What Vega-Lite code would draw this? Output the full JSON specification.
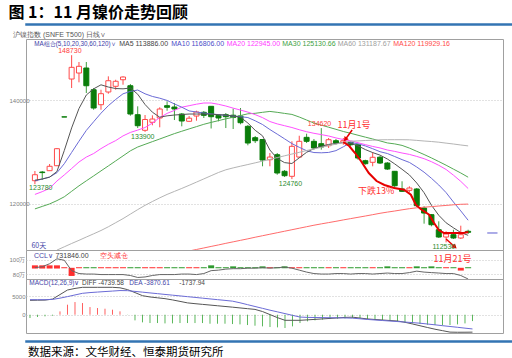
{
"$schema":"https://vega.github.io/schema/vega-lite/v6.json",
"padding":{"left":8,"right":10,"top":5,"bottom":0},
"background":"white",
"spacing":0,
"title":{"text":"图 1：11 月镍价走势回顾","anchor":"start","fontSize":16,"fontWeight":"bold","color":"#000000","offset":2,"font":"Noto Sans CJK SC"},
"config":{
 "font":"Liberation Sans",
 "view":{"stroke":"#a0a0a0"},
 "axis":{"title":null},
 "axisX":{"disable":true},
 "axisY":{"grid":true,"gridColor":"#c4c4c4","gridDash":[1,2],"domain":false,"ticks":false,"labelFontSize":6,"labelFont":"Liberation Sans","labelColor":"#808080","labelPadding":1}
},
"datasets":{
"band":[{"a":0,"b":1}],
"kl":[
{"i":0,"o":124450,"h":126330,"l":123780,"c":125610,"ma5":124550,"ma10":124410,"ma20":121800,"ma30":119000,"ccl":88.8,"b0":87.6,"b1":92.0,"bc":"up","diff":3910,"dea":4080,"macd":-900},
{"i":1,"o":126130,"h":126330,"l":124590,"c":126020,"ma5":124780,"ma10":124780,"ma20":122340,"ma30":119480,"ccl":90.1,"b0":87.6,"b1":92.0,"bc":"up","diff":3940,"dea":4080,"macd":-630},
{"i":2,"o":126390,"h":127680,"l":126330,"c":127240,"ma5":125130,"ma10":125170,"ma20":122980,"ma30":119960,"ccl":94.2,"b0":87.6,"b1":92.0,"bc":"up","diff":3970,"dea":4080,"macd":-450},
{"i":3,"o":127350,"h":130780,"l":127290,"c":130640,"ma5":126230,"ma10":126000,"ma20":124390,"ma30":120600,"ma60":111030,"ccl":101,"b0":87.6,"b1":92.0,"bc":"up","diff":4240,"dea":4150,"macd":-270},
{"i":4,"o":136800,"h":136800,"l":136770,"c":136770,"ma5":130290,"ma10":127740,"ma20":125570,"ma30":121340,"ma60":111670,"ccl":99,"b0":88.0,"b1":89.4,"bc":"up","diff":5470,"dea":4500,"macd":900},
{"i":5,"o":144120,"h":148730,"l":142380,"c":146380,"ma5":134660,"ma10":129920,"ma20":126810,"ma30":122400,"ma60":112310,"ccl":84.7,"b0":77.4,"b1":88.6,"bc":"up","diff":6710,"dea":4920,"macd":2720},
{"i":6,"o":145280,"h":147410,"l":143480,"c":146580,"ma5":138410,"ma10":132090,"ma20":128070,"ma30":123460,"ma60":112920,"ccl":80.7,"b0":88.0,"b1":89.4,"bc":"up","diff":7140,"dea":5370,"macd":3440},
{"i":7,"o":146250,"h":147410,"l":141410,"c":142820,"ma5":141030,"ma10":134180,"ma20":129020,"ma30":124430,"ma60":113560,"ccl":80,"b0":88.0,"b1":89.4,"bc":"dn","diff":7440,"dea":5810,"macd":3170},
{"i":8,"o":142050,"h":142380,"l":138180,"c":138510,"ma5":142220,"ma10":135860,"ma20":129710,"ma30":125380,"ma60":114180,"ccl":80,"b0":88.0,"b1":89.4,"bc":"dn","diff":7440,"dea":6010,"macd":2080},
{"i":9,"o":139150,"h":142050,"l":138180,"c":141280,"ma5":143000,"ma10":137510,"ma20":130660,"ma30":126350,"ma60":114820,"ccl":79.3,"b0":88.0,"b1":89.4,"bc":"up","diff":7440,"dea":6150,"macd":1810},
{"i":10,"o":141610,"h":144640,"l":141280,"c":143790,"ma5":142570,"ma10":138960,"ma20":131490,"ma30":127310,"ma60":115540,"ccl":79.3,"b0":88.0,"b1":89.4,"bc":"up","diff":7440,"dea":6290,"macd":1630},
{"i":11,"o":142710,"h":143980,"l":142050,"c":143680,"ma5":142280,"ma10":140170,"ma20":132210,"ma30":128280,"ma60":116330,"ccl":79.3,"b0":88.0,"b1":89.4,"bc":"up","diff":7440,"dea":6420,"macd":1360},
{"i":12,"o":143980,"h":144640,"l":143020,"c":144510,"ma5":142220,"ma10":141260,"ma20":133120,"ma30":129250,"ma60":117120,"ccl":79.3,"b0":88.0,"b1":89.4,"bc":"up","diff":7310,"dea":6560,"macd":910},
{"i":13,"o":142820,"h":143150,"l":137020,"c":137350,"ma5":142380,"ma10":141720,"ma20":133790,"ma30":130230,"ma60":117990,"ccl":78,"b0":88.0,"b1":89.4,"bc":"dn","diff":6820,"dea":6530,"macd":-50},
{"i":14,"o":137220,"h":138840,"l":134640,"c":135090,"ma5":141180,"ma10":141990,"ma20":134240,"ma30":130970,"ma60":118860,"ccl":75.3,"b0":88.0,"b1":89.4,"bc":"dn","diff":6010,"dea":6330,"macd":-1540},
{"i":15,"o":134200,"h":137160,"l":133900,"c":136290,"ma5":139190,"ma10":141260,"ma20":134740,"ma30":131490,"ma60":119690,"ccl":76,"b0":88.0,"b1":89.4,"bc":"up","diff":5170,"dea":6130,"macd":-2080},
{"i":16,"o":135750,"h":137100,"l":135170,"c":136380,"ma5":137700,"ma10":140750,"ma20":135590,"ma30":132010,"ma60":120430,"ccl":78,"b0":88.0,"b1":89.4,"bc":"up","diff":4820,"dea":5920,"macd":-2270},
{"i":17,"o":136580,"h":138650,"l":134780,"c":138320,"ma5":136730,"ma10":140410,"ma20":136670,"ma30":132520,"ma60":121140,"ccl":79.3,"b0":88.0,"b1":89.4,"bc":"up","diff":4590,"dea":5720,"macd":-2270},
{"i":18,"o":138960,"h":139810,"l":137990,"c":138650,"ma5":137000,"ma10":139980,"ma20":137470,"ma30":133040,"ma60":121800,"ccl":79.3,"b0":88.0,"b1":89.4,"bc":"dn","diff":4360,"dea":5510,"macd":-2360},
{"i":19,"o":138700,"h":139480,"l":136190,"c":138320,"ma5":137160,"ma10":139300,"ma20":138050,"ma30":133560,"ma60":122380,"ccl":79.3,"b0":88.0,"b1":89.4,"bc":"dn","diff":4020,"dea":5310,"macd":-2360},
{"i":20,"o":137350,"h":137540,"l":134970,"c":136000,"ma5":137250,"ma10":138670,"ma20":138670,"ma30":134020,"ma60":122960,"ccl":80,"b0":88.0,"b1":89.4,"bc":"dn","diff":3620,"dea":5110,"macd":-2270},
{"i":21,"o":135940,"h":136960,"l":135800,"c":136540,"ma5":137350,"ma10":137950,"ma20":138960,"ma30":134470,"ma60":123560,"ma120":110860,"ccl":80,"b0":88.0,"b1":89.4,"bc":"up","diff":3210,"dea":4900,"macd":-2270},
{"i":22,"o":136960,"h":137990,"l":136060,"c":137740,"ma5":137350,"ma10":137740,"ma20":139250,"ma30":134910,"ma60":124180,"ma120":111150,"ccl":79.3,"b0":88.0,"b1":89.4,"bc":"up","diff":3000,"dea":4700,"macd":-2270},
{"i":23,"o":137680,"h":137930,"l":136580,"c":137100,"ma5":137350,"ma10":137540,"ma20":139480,"ma30":135360,"ma60":124800,"ma120":111440,"ccl":80.7,"b0":88.0,"b1":89.4,"bc":"dn","diff":2810,"dea":4500,"macd":-2270},
{"i":24,"o":138840,"h":138840,"l":134550,"c":136830,"ma5":137310,"ma10":137370,"ma20":139480,"ma30":135730,"ma60":125420,"ma120":111740,"ccl":84.7,"b0":88.0,"b1":92.0,"bc":"dn","diff":2620,"dea":4290,"macd":-2450},
{"i":25,"o":137100,"h":137350,"l":135940,"c":136580,"ma5":137230,"ma10":137230,"ma20":139230,"ma30":136070,"ma60":126040,"ma120":112030,"ccl":85.4,"b0":88.0,"b1":89.4,"bc":"dn","diff":2430,"dea":4090,"macd":-2450},
{"i":26,"o":137220,"h":137540,"l":134640,"c":136830,"ma5":137140,"ma10":137100,"ma20":138900,"ma30":136420,"ma60":126560,"ma120":112340,"ccl":86.8,"b0":88.0,"b1":89.4,"bc":"dn","diff":2240,"dea":3890,"macd":-2450},
{"i":27,"o":137120,"h":138410,"l":134450,"c":136670,"ma5":136960,"ma10":136960,"ma20":138490,"ma30":136730,"ma60":126930,"ma120":112630,"ccl":87.4,"b0":88.0,"b1":90.6,"bc":"dn","diff":2050,"dea":3680,"macd":-2540},
{"i":28,"o":136960,"h":138510,"l":135360,"c":135670,"ma5":136730,"ma10":136830,"ma20":138110,"ma30":137060,"ma60":127260,"ma120":112920,"ccl":87.4,"b0":88.0,"b1":89.4,"bc":"dn","diff":1840,"dea":3240,"macd":-2630},
{"i":29,"o":134970,"h":135220,"l":131300,"c":131740,"ma5":135610,"ma10":136670,"ma20":137720,"ma30":137390,"ma60":127580,"ma120":113210,"ccl":88.1,"b0":88.0,"b1":89.4,"bc":"dn","diff":1640,"dea":2730,"macd":-2810},
{"i":30,"o":132770,"h":133100,"l":131740,"c":132190,"ma5":134200,"ma10":136040,"ma20":137230,"ma30":137490,"ma60":127910,"ma120":113520,"ccl":88.1,"b0":88.0,"b1":89.4,"bc":"dn","diff":1440,"dea":2230,"macd":-2990},
{"i":31,"o":132420,"h":132520,"l":127240,"c":128450,"ma5":133130,"ma10":135320,"ma20":136650,"ma30":137680,"ma60":128240,"ma120":113810,"ccl":88.8,"b0":88.0,"b1":90.6,"bc":"dn","diff":860,"dea":1730,"macd":-3170},
{"i":32,"o":128510,"h":129810,"l":127240,"c":129030,"ma5":130390,"ma10":134350,"ma20":135900,"ma30":137850,"ma60":128570,"ma120":114100,"ccl":88.1,"b0":88.0,"b1":89.4,"bc":"up","diff":30,"dea":1230,"macd":-3350},
{"i":33,"o":129480,"h":129810,"l":125610,"c":125940,"ma5":128760,"ma10":133460,"ma20":135440,"ma30":137680,"ma60":128920,"ma120":114390,"ccl":88.8,"b0":88.0,"b1":89.4,"bc":"dn","diff":-800,"dea":770,"macd":-3440},
{"i":34,"o":126270,"h":126520,"l":125170,"c":125420,"ma5":127950,"ma10":132550,"ma20":135090,"ma30":137470,"ma60":129270,"ma120":114680,"ccl":89.5,"b0":88.0,"b1":90.6,"bc":"dn","diff":-1520,"dea":300,"macd":-3620},
{"i":35,"o":125300,"h":132070,"l":124760,"c":131100,"ma5":127780,"ma10":131630,"ma20":134740,"ma30":137270,"ma60":129610,"ma120":114970,"ccl":88.1,"b0":88.0,"b1":89.4,"bc":"up","diff":-1520,"dea":-170,"macd":-3170},
{"i":36,"o":129030,"h":133150,"l":128840,"c":132070,"ma5":128880,"ma10":130910,"ma20":134310,"ma30":136770,"ma60":129940,"ma120":115260,"ccl":85.4,"b0":88.0,"b1":89.4,"bc":"up","diff":-1520,"dea":-640,"macd":-2270},
{"i":37,"o":132840,"h":133540,"l":131740,"c":132070,"ma5":129940,"ma10":130250,"ma20":133930,"ma30":136190,"ma60":130290,"ma120":115550,"ccl":82.7,"b0":88.0,"b1":89.4,"bc":"dn","diff":-1400,"dea":-730,"macd":-1810},
{"i":38,"o":132070,"h":132520,"l":130450,"c":130780,"ma5":130680,"ma10":129900,"ma20":133620,"ma30":135610,"ma60":130600,"ma120":115840,"ccl":80.7,"b0":88.0,"b1":89.4,"bc":"dn","diff":-1270,"dea":-760,"macd":-1540},
{"i":39,"o":131610,"h":134620,"l":130450,"c":130970,"ma5":131100,"ma10":129850,"ma20":133370,"ma30":135200,"ma60":130910,"ma120":116100,"ccl":80,"b0":88.0,"b1":89.4,"bc":"dn","diff":-1140,"dea":-790,"macd":-1360},
{"i":40,"o":131220,"h":132710,"l":130780,"c":132380,"ma5":131470,"ma10":129920,"ma20":133100,"ma30":134800,"ma60":131220,"ma120":116350,"ccl":80,"b0":88.0,"b1":89.4,"bc":"up","diff":-1010,"dea":-820,"macd":-1180},
{"i":41,"o":132190,"h":132520,"l":131410,"c":131740,"ma5":131650,"ma10":130270,"ma20":132730,"ma30":134390,"ma60":131530,"ma120":116600,"ccl":80.7,"b0":88.0,"b1":89.4,"bc":"dn","diff":-870,"dea":-850,"macd":-1090},
{"i":42,"o":131880,"h":132710,"l":131410,"c":132190,"ma5":131820,"ma10":131010,"ma20":132420,"ma30":133970,"ma60":131840,"ma120":116870,"ccl":80.7,"b0":88.0,"b1":89.4,"bc":"up","diff":-730,"dea":-880,"macd":-1000},
{"i":43,"o":131880,"h":132070,"l":131100,"c":131410,"ma5":131650,"ma10":131820,"ma20":132170,"ma30":133620,"ma60":132090,"ma120":117120,"ccl":80,"b0":88.0,"b1":89.4,"bc":"dn","diff":-670,"dea":-940,"macd":-910},
{"i":44,"o":131410,"h":131550,"l":128510,"c":128840,"ma5":131200,"ma10":131590,"ma20":131800,"ma30":133250,"ma60":132150,"ma120":117370,"ccl":80.7,"b0":88.0,"b1":89.4,"bc":"dn","diff":-910,"dea":-1110,"macd":-1000},
{"i":45,"o":128320,"h":128510,"l":127550,"c":127740,"ma5":130470,"ma10":131180,"ma20":131430,"ma30":132880,"ma60":132230,"ma120":117620,"ccl":80.7,"b0":88.0,"b1":89.4,"bc":"dn","diff":-1150,"dea":-1290,"macd":-1180},
{"i":46,"o":128010,"h":129940,"l":127240,"c":128980,"ma5":129890,"ma10":130640,"ma20":131080,"ma30":132520,"ma60":132280,"ma120":117880,"ccl":80,"b0":88.0,"b1":89.4,"bc":"up","diff":-1300,"dea":-1430,"macd":-1270},
{"i":47,"o":129000,"h":129230,"l":127680,"c":127870,"ma5":129400,"ma10":130060,"ma20":130790,"ma30":132150,"ma60":132360,"ma120":118150,"ccl":80.7,"b0":88.0,"b1":89.4,"bc":"dn","diff":-1440,"dea":-1580,"macd":-1450},
{"i":48,"o":127870,"h":128070,"l":126520,"c":126710,"ma5":128650,"ma10":129710,"ma20":130390,"ma30":131760,"ma60":132380,"ma120":118380,"ccl":81.4,"b0":88.0,"b1":90.6,"bc":"dn","diff":-1580,"dea":-1720,"macd":-1630},
{"i":49,"o":126270,"h":126330,"l":123040,"c":123480,"ma5":127700,"ma10":129130,"ma20":130120,"ma30":131570,"ma60":132380,"ma120":118590,"ccl":80.7,"b0":88.0,"b1":89.4,"bc":"dn","diff":-1720,"dea":-1860,"macd":-1900},
{"i":50,"o":122850,"h":124340,"l":122270,"c":122400,"ma5":126660,"ma10":128530,"ma20":129810,"ma30":131280,"ma60":132380,"ma120":118820,"ccl":80.7,"b0":88.0,"b1":89.4,"bc":"dn","diff":-2060,"dea":-2000,"macd":-2170},
{"i":51,"o":122590,"h":123370,"l":122210,"c":123040,"ma5":125570,"ma10":127990,"ma20":129540,"ma30":130760,"ma60":132360,"ma120":119040,"ccl":82,"b0":88.0,"b1":89.4,"bc":"up","diff":-2520,"dea":-2150,"macd":-2360},
{"i":52,"o":122850,"h":123040,"l":119360,"c":119620,"ma5":124010,"ma10":127100,"ma20":129150,"ma30":130140,"ma60":132250,"ma120":119210,"ccl":84,"b0":88.0,"b1":90.6,"bc":"dn","diff":-3000,"dea":-2310,"macd":-2540},
{"i":53,"o":119170,"h":119500,"l":116140,"c":118200,"ma5":122130,"ma10":126100,"ma20":128710,"ma30":129520,"ma60":132130,"ma120":119330,"ccl":82.7,"b0":88.0,"b1":89.4,"bc":"dn","diff":-3480,"dea":-2530,"macd":-2720},
{"i":54,"o":117880,"h":118010,"l":115630,"c":115940,"ma5":119710,"ma10":124920,"ma20":128130,"ma30":128860,"ma60":132030,"ma120":119440,"ccl":82,"b0":88.0,"b1":90.6,"bc":"dn","diff":-3940,"dea":-2750,"macd":-2810},
{"i":55,"o":114970,"h":116600,"l":113370,"c":113560,"ma5":117760,"ma10":123620,"ma20":127430,"ma30":128160,"ma60":131900,"ma120":119560,"ccl":81.4,"b0":88.0,"b1":89.4,"bc":"dn","diff":-4330,"dea":-2980,"macd":-2900},
{"i":56,"o":113560,"h":114670,"l":112530,"c":114140,"ma5":116310,"ma10":122150,"ma20":126620,"ma30":127450,"ma60":131720,"ma120":119670,"ccl":80.7,"b0":88.0,"b1":89.4,"bc":"up","diff":-4730,"dea":-3200,"macd":-2810},
{"i":57,"o":114010,"h":114970,"l":113180,"c":113370,"ma5":115340,"ma10":120330,"ma20":125520,"ma30":126690,"ma60":131550,"ma120":119790,"ccl":80.7,"b0":88.0,"b1":89.4,"bc":"dn","diff":-4770,"dea":-3420,"macd":-2630},
{"i":58,"o":113370,"h":115750,"l":113180,"c":114010,"ma5":114430,"ma10":118610,"ma20":124320,"ma30":125940,"ma60":131360,"ma120":119890,"ccl":78,"b0":84.8,"b1":88.6,"bc":"up","diff":-4760,"dea":-3650,"macd":-2360},
{"i":59,"o":114670,"h":114970,"l":114140,"c":114470,"ma5":113886,"ma10":116806,"ma20":122945,"ma30":125130.66,"ma60":131187.67,"ma120":119929.16,"ccl":73.2,"b0":88.0,"b1":89.4,"bc":"dn","diff":-4739.58,"dea":-3870.61,"macd":-1737.94}
],
"trend":[{"i":42,"v":131935},{"i":42.8,"v":131160},{"i":43.6,"v":129810},{"i":44.4,"v":128260},{"i":45.47,"v":125940},{"i":46.53,"v":124390},{"i":47.6,"v":123620},{"i":48.93,"v":123040},{"i":50.27,"v":122710},{"i":51.2,"v":121740},{"i":51.87,"v":119810},{"i":52.53,"v":118980},{"i":53.69,"v":117880},{"i":54.36,"v":116270},{"i":55.03,"v":114860},{"i":55.69,"v":114340},{"i":57.03,"v":114340},{"i":58.36,"v":114340},{"i":59.03,"v":114530}],
"arrows":[{"id":"a1","i":43.2,"v":134256,"i2":42.27,"v2":132420},{"id":"a2","i":56.0,"v":113180,"i2":57.2,"v2":111630}],
"last":[{"i":61.6,"i2":63.0,"v":114340}],
"ann":[
{"t":"148730","i":4.76,"v":149480,"k":"hi"},
{"t":"134620","i":38.76,"v":135480,"k":"hi"},
{"t":"133900","i":14.69,"v":132900,"k":"lo"},
{"t":"124760","i":34.8,"v":123870,"k":"lo"},
{"t":"123780","i":0.8,"v":123040,"k":"lo"},
{"t":"112530","i":55.69,"v":111720,"k":"lo"},
{"t":"11月1号","i":43.47,"v":135280,"k":"note"},
{"t":"下跌13%","i":46.47,"v":122520,"k":"note"},
{"t":"60天","i":-0.47,"v":111880,"k":"tag"}],
"hdr":[
{"t":"MA5 113886.00","i":11.47,"v":150950,"s":"ma5"},
{"t":"MA10 116806.00","i":18.57,"v":150950,"s":"ma10"},
{"t":"MA20 122945.00","i":26.13,"v":150950,"s":"ma20"},
{"t":"MA30 125130.66","i":33.69,"v":150950,"s":"ma30"},
{"t":"MA60 131187.67","i":41.24,"v":150950,"s":"ma60"},
{"t":"MA120 119929.16","i":48.8,"v":150950,"s":"ma120"}],
"hdr0":[{"t":"MA组合(5,10,20,30,60,120)∨","i":-0.09,"v":150950}],
"cann":[
{"t":"CCL∨","i":-0.13,"v":105,"k":"b"},
{"t":"731846.00","i":2.8,"v":105,"k":"d"},
{"t":"空头减仓","i":8.8,"v":105.5,"k":"r"}],
"cnote":[{"t":"11月21号","i":56.87,"v":100.4}],
"mann":[
{"t":"MACD(12,26,9)∨","i":-0.09,"v":8610,"k":"b"},
{"t":"DIFF -4739.58","i":6.93,"v":8610,"k":"d"},
{"t":"DEA -3870.61","i":13.24,"v":8610,"k":"b"},
{"t":"-1737.94","i":19.91,"v":8610,"k":"d"}]
},
"vconcat":[
{"width":494,"height":1,"view":{"stroke":"#3374b3","strokeWidth":1.5,"fill":"#3374b3"},"data":{"name":"band"},"mark":{"type":"rect","fill":"#3374b3","opacity":1},
 "encoding":{"x":{"field":"a","type":"quantitative","scale":{"domain":[0,1],"nice":false,"zero":false},"axis":null},"x2":{"field":"b"},
  "y":{"field":"a","type":"quantitative","scale":{"domain":[0,1],"nice":false,"zero":false},"axis":null},"y2":{"field":"b"}}},
{"width":494,"height":4,"view":{"stroke":null},"data":{"name":"band"},"mark":{"type":"rect","fill":"#ffffff","opacity":0},
 "encoding":{"x":{"field":"a","type":"quantitative","scale":{"domain":[0,1],"nice":false,"zero":false},"axis":null},"x2":{"field":"b"},
  "y":{"field":"a","type":"quantitative","scale":{"domain":[0,1],"nice":false,"zero":false},"axis":null},"y2":{"field":"b"}}},
{"bounds":"flush","spacing":0,"vconcat":[
 {"width":477,"height":211,
  "title":{"text":"沪镍指数 (SNFE T500)  日线∨","anchor":"start","fontSize":7,"fontWeight":"normal","color":"#555555","offset":1,"dx":4},
  "data":{"name":"kl"},
  "encoding":{"x":{"field":"i","type":"quantitative","scale":{"domain":[-0.533,63.067],"nice":false,"zero":false}}},
  "resolve":{"scale":{"color":"independent"}},
  "layer":[
   {"mark":{"type":"rule","strokeWidth":1},
    "encoding":{"y":{"field":"l","type":"quantitative","scale":{"domain":[111050,151860],"nice":false,"zero":false},"axis":{"values":[120000,140000],"format":"d","labelPadding":-3}},"y2":{"field":"h"},
     "color":{"condition":{"test":"datum.c >= datum.o","value":"#ff4a4a"},"value":"#3f9f3f"}}},
   {"transform":[{"filter":"datum.c < datum.o"}],"mark":{"type":"bar","size":5,"fill":"#0a7d0a","stroke":"#0a7d0a","strokeWidth":1},
    "encoding":{"y":{"field":"o","type":"quantitative","scale":{"domain":[111050,151860],"nice":false,"zero":false}},"y2":{"field":"c"}}},
   {"transform":[{"filter":"datum.c >= datum.o"}],"mark":{"type":"bar","size":5,"fill":"#ffffff","stroke":"#ff4a4a","strokeWidth":1},
    "encoding":{"y":{"field":"o","type":"quantitative","scale":{"domain":[111050,151860],"nice":false,"zero":false}},"y2":{"field":"c"}}},
   {"transform":[{"fold":["ma120","ma60","ma30","ma20","ma10","ma5"],"as":["key","val"]},{"filter":"isValid(datum.val)"}],
    "mark":{"type":"line","strokeWidth":1,"clip":true},
    "encoding":{"y":{"field":"val","type":"quantitative","scale":{"domain":[111050,151860],"nice":false,"zero":false}},
     "color":{"field":"key","type":"nominal","scale":{"domain":["ma5","ma10","ma20","ma30","ma60","ma120"],"range":["#555555","#6b6bd6","#ff50ff","#55aa55","#b4b4b4","#ff6b6b"]},"legend":null}}},
   {"data":{"name":"trend"},"mark":{"type":"line","color":"#e60000","strokeWidth":2},
    "encoding":{"y":{"field":"v","type":"quantitative","scale":{"domain":[111050,151860],"nice":false,"zero":false}}}},
   {"data":{"name":"arrows"},"mark":{"type":"rule","color":"#e60000","strokeWidth":1.5},
    "encoding":{"x2":{"field":"i2"},"y":{"field":"v","type":"quantitative","scale":{"domain":[111050,151860],"nice":false,"zero":false}},"y2":{"field":"v2"}}},
   {"data":{"name":"arrows"},"transform":[{"filter":"datum.id == 'a1'"}],"mark":{"type":"point","shape":"triangle-up","filled":true,"color":"#e60000","size":28,"angle":216,"opacity":1},
    "encoding":{"x":{"field":"i2","type":"quantitative","scale":{"domain":[-0.533,63.067],"nice":false,"zero":false}},"y":{"field":"v2","type":"quantitative","scale":{"domain":[111050,151860],"nice":false,"zero":false}}}},
   {"data":{"name":"arrows"},"transform":[{"filter":"datum.id == 'a2'"}],"mark":{"type":"point","shape":"triangle-up","filled":true,"color":"#e60000","size":28,"angle":132,"opacity":1},
    "encoding":{"x":{"field":"i2","type":"quantitative","scale":{"domain":[-0.533,63.067],"nice":false,"zero":false}},"y":{"field":"v2","type":"quantitative","scale":{"domain":[111050,151860],"nice":false,"zero":false}}}},
   {"data":{"name":"last"},"mark":{"type":"rule","color":"#5a5ad0","strokeWidth":1},
    "encoding":{"x2":{"field":"i2"},"y":{"field":"v","type":"quantitative","scale":{"domain":[111050,151860],"nice":false,"zero":false}}}},
   {"data":{"name":"ann"},"transform":[{"filter":"datum.k == 'hi'"}],"mark":{"type":"text","fontSize":7,"color":"#ff3c3c"},
    "encoding":{"y":{"field":"v","type":"quantitative","scale":{"domain":[111050,151860],"nice":false,"zero":false}},"text":{"field":"t"}}},
   {"data":{"name":"ann"},"transform":[{"filter":"datum.k == 'lo'"}],"mark":{"type":"text","fontSize":7,"color":"#2e8b2e"},
    "encoding":{"y":{"field":"v","type":"quantitative","scale":{"domain":[111050,151860],"nice":false,"zero":false}},"text":{"field":"t"}}},
   {"data":{"name":"ann"},"transform":[{"filter":"datum.k == 'note'"}],"mark":{"type":"text","fontSize":9,"color":"#ff3030","font":"Noto Sans CJK SC"},
    "encoding":{"y":{"field":"v","type":"quantitative","scale":{"domain":[111050,151860],"nice":false,"zero":false}},"text":{"field":"t"}}},
   {"data":{"name":"ann"},"transform":[{"filter":"datum.k == 'tag'"}],"mark":{"type":"text","fontSize":7,"color":"#4646a8","align":"left","font":"Noto Sans CJK SC"},
    "encoding":{"y":{"field":"v","type":"quantitative","scale":{"domain":[111050,151860],"nice":false,"zero":false}},"text":{"field":"t"}}},
   {"data":{"name":"hdr0"},"mark":{"type":"text","fontSize":6.3,"align":"left","color":"#3c3ca8"},
    "encoding":{"y":{"field":"v","type":"quantitative","scale":{"domain":[111050,151860],"nice":false,"zero":false}},"text":{"field":"t"}}},
   {"data":{"name":"hdr"},"mark":{"type":"text","fontSize":7,"align":"left"},
    "encoding":{"y":{"field":"v","type":"quantitative","scale":{"domain":[111050,151860],"nice":false,"zero":false}},"text":{"field":"t"},
     "color":{"field":"s","type":"nominal","scale":{"domain":["ma5","ma10","ma20","ma30","ma60","ma120"],"range":["#444444","#4b4bc8","#ff3cff","#3f9f3f","#a0a0a0","#ff4b4b"]},"legend":null}}}
  ]},
 {"width":477,"height":29,
  "data":{"name":"kl"},
  "encoding":{"x":{"field":"i","type":"quantitative","scale":{"domain":[-0.533,63.067],"nice":false,"zero":false}}},
  "resolve":{"scale":{"color":"independent"}},
  "layer":[
   {"mark":{"type":"bar","size":6},
    "encoding":{"y":{"field":"b0","type":"quantitative","scale":{"domain":[73.2,113.1],"nice":false,"zero":false},"axis":{"values":[80,90,100],"labelExpr":"datum.value + '万'"}},"y2":{"field":"b1"},
     "color":{"field":"bc","type":"nominal","scale":{"domain":["up","dn"],"range":["#ff2f2f","#2f9a2f"]},"legend":null}}},
   {"mark":{"type":"line","color":"#666666","strokeWidth":1,"clip":true},
    "encoding":{"y":{"field":"ccl","type":"quantitative","scale":{"domain":[73.2,113.1],"nice":false,"zero":false}}}},
   {"data":{"name":"cann"},"mark":{"type":"text","fontSize":7,"align":"left"},
    "encoding":{"y":{"field":"v","type":"quantitative","scale":{"domain":[73.2,113.1],"nice":false,"zero":false}},"text":{"field":"t"},
     "color":{"field":"k","type":"nominal","scale":{"domain":["b","d","r"],"range":["#4646a8","#444444","#ff3030"]},"legend":null}}},
   {"data":{"name":"cnote"},"mark":{"type":"text","fontSize":9,"color":"#ff3030","font":"Noto Sans CJK SC"},
    "encoding":{"y":{"field":"v","type":"quantitative","scale":{"domain":[73.2,113.1],"nice":false,"zero":false}},"text":{"field":"t"}}}
  ]},
 {"width":477,"height":54,
  "data":{"name":"kl"},
  "encoding":{"x":{"field":"i","type":"quantitative","scale":{"domain":[-0.533,63.067],"nice":false,"zero":false}}},
  "resolve":{"scale":{"color":"independent"}},
  "layer":[
   {"mark":{"type":"rule","strokeWidth":1},
    "encoding":{"y":{"field":"macd","type":"quantitative","scale":{"domain":[-4970,9700],"nice":false,"zero":false},"axis":{"values":[0,5000],"format":"d"}},"y2":{"datum":0},
     "color":{"condition":{"test":"datum.macd > 0","value":"#ff6060"},"value":"#5cb85c"}}},
   {"mark":{"type":"line","color":"#555555","strokeWidth":1},
    "encoding":{"y":{"field":"diff","type":"quantitative","scale":{"domain":[-4970,9700],"nice":false,"zero":false}}}},
   {"mark":{"type":"line","color":"#6b6bd6","strokeWidth":1},
    "encoding":{"y":{"field":"dea","type":"quantitative","scale":{"domain":[-4970,9700],"nice":false,"zero":false}}}},
   {"data":{"name":"mann"},"mark":{"type":"text","fontSize":6.5,"align":"left"},
    "encoding":{"y":{"field":"v","type":"quantitative","scale":{"domain":[-4970,9700],"nice":false,"zero":false}},"text":{"field":"t"},
     "color":{"field":"k","type":"nominal","scale":{"domain":["b","d"],"range":["#4646a8","#444444"]},"legend":null}}}
  ]}
]},
{"width":494,"height":5,"view":{"stroke":null},"data":{"name":"band"},"mark":{"type":"rect","fill":"#ffffff","opacity":0},
 "encoding":{"x":{"field":"a","type":"quantitative","scale":{"domain":[0,1],"nice":false,"zero":false},"axis":null},"x2":{"field":"b"},
  "y":{"field":"a","type":"quantitative","scale":{"domain":[0,1],"nice":false,"zero":false},"axis":null},"y2":{"field":"b"}}},
{"width":494,"height":1,"view":{"stroke":"#3374b3","strokeWidth":1.5,"fill":"#3374b3"},
 "title":{"text":"数据来源：文华财经、恒泰期货研究所","orient":"bottom","anchor":"start","fontSize":11.5,"fontWeight":"normal","color":"#000000","offset":5,"dx":2,"font":"Noto Sans CJK SC"},
 "data":{"name":"band"},"mark":{"type":"rect","fill":"#3374b3","opacity":1},
 "encoding":{"x":{"field":"a","type":"quantitative","scale":{"domain":[0,1],"nice":false,"zero":false},"axis":null},"x2":{"field":"b"},
  "y":{"field":"a","type":"quantitative","scale":{"domain":[0,1],"nice":false,"zero":false},"axis":null},"y2":{"field":"b"}}}
]
}
